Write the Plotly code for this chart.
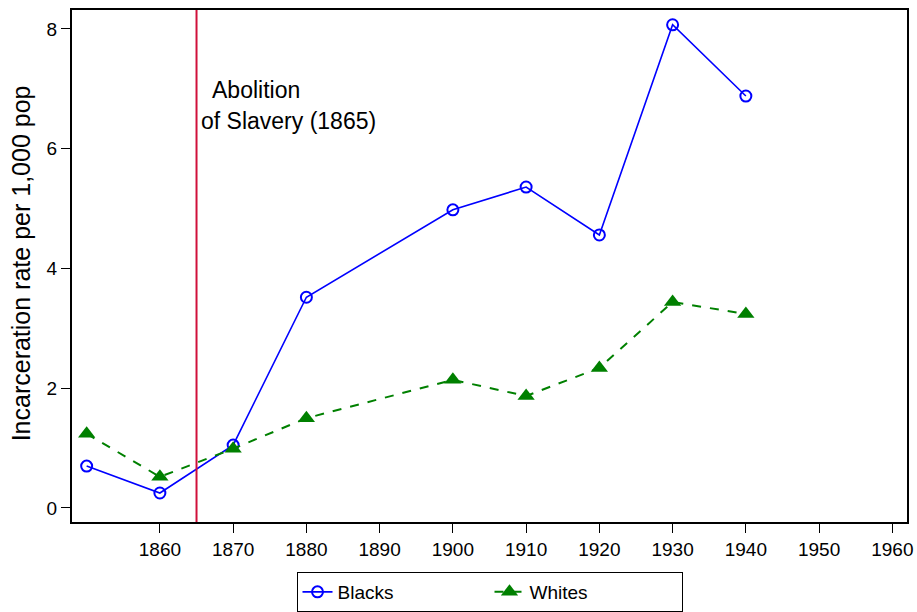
import plotly.graph_objects as go

years = [1850, 1860, 1870, 1880, 1900, 1910, 1920, 1930, 1940]
blacks = [0.70, 0.25, 1.05, 3.52, 4.98, 5.36, 4.56, 8.07, 6.88]
whites = [1.24, 0.52, 0.99, 1.50, 2.14, 1.87, 2.34, 3.44, 3.24]
x_ticks = [1860, 1870, 1880, 1890, 1900, 1910, 1920, 1930, 1940, 1950, 1960]
y_ticks = [0, 2, 4, 6, 8]
abolition_year = 1865

fig = go.Figure()
fig.add_trace(go.Scatter(
    x=years, y=blacks, name="Blacks", mode="lines+markers",
    line=dict(color="blue", width=1.6),
    marker=dict(symbol="circle-open", size=11, color="blue", line=dict(width=2)),
))
fig.add_trace(go.Scatter(
    x=years, y=whites, name="Whites", mode="lines+markers",
    line=dict(color="green", width=2, dash="dash"),
    marker=dict(symbol="triangle-up", size=15, color="green"),
))

fig.add_vline(x=abolition_year, line=dict(color="#d0103a", width=2))
fig.add_annotation(x=1866.8, y=6.98, text="Abolition", showarrow=False,
                   xanchor="left", yanchor="middle", font=dict(size=23))
fig.add_annotation(x=1865.3, y=6.46, text="of Slavery (1865)", showarrow=False,
                   xanchor="left", yanchor="middle", font=dict(size=23))
# y title placed by hand, like the original
fig.add_annotation(x=-0.06, y=0.505, xref="paper", yref="paper", textangle=-90,
                   text="Incarceration rate per 1,000 pop", showarrow=False,
                   xanchor="center", yanchor="middle", font=dict(size=25))

axis_style = dict(showline=True, linecolor="black", linewidth=2, mirror=True,
                  ticks="outside", ticklen=9, tickcolor="black", showgrid=False,
                  zeroline=False, automargin=False,
                  tickfont=dict(size=19, color="black"))
fig.update_xaxes(range=[1848, 1962], tickvals=x_ticks, **axis_style)
fig.update_yaxes(range=[-0.234, 8.317], tickvals=y_ticks, **axis_style)

fig.update_layout(
    width=917, height=612,
    margin=dict(l=72, r=10, t=10, b=90),
    plot_bgcolor="white", paper_bgcolor="white",
    font=dict(family="Liberation Sans, Arial, sans-serif", color="black"),
    legend=dict(orientation="h", x=0.5, xanchor="center",
                yref="container", y=1 - 572 / 612, yanchor="top",
                bordercolor="black", borderwidth=1, font=dict(size=19),
                entrywidth=147, entrywidthmode="pixels"),
)

# drop the default 8px body margin so the figure fills the window
fig.write_html("out.html", config={"displayModeBar": False},
               post_script="document.body.style.margin='0';")
